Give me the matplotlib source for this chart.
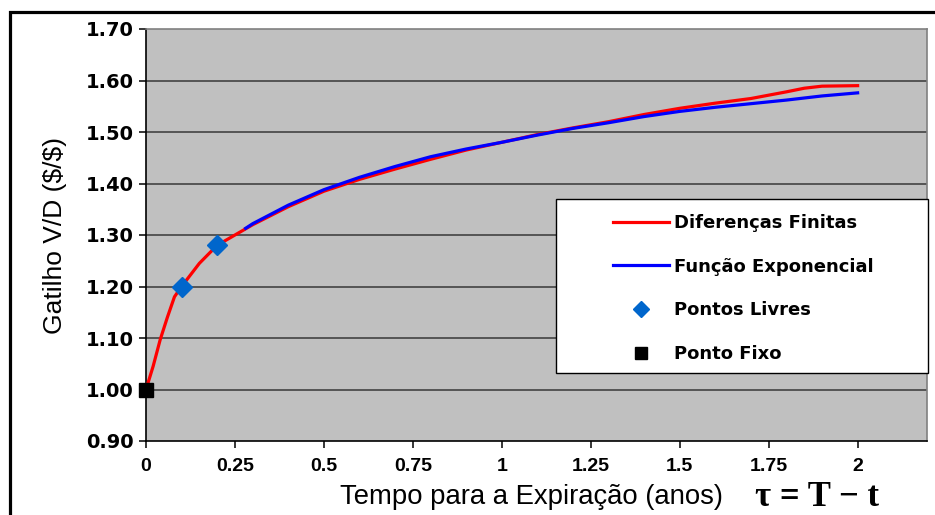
import matplotlib.pyplot as plt
from matplotlib.patches import Rectangle
from matplotlib.lines import Line2D

# Diferenças Finitas (curva vermelha)
tau_df = [0, 0.02, 0.04, 0.06, 0.08, 0.1, 0.15, 0.2, 0.25, 0.3, 0.4, 0.5, 0.6, 0.7, 0.8,
          0.9, 1.0, 1.1, 1.2, 1.3, 1.4, 1.5, 1.6, 1.7, 1.8, 1.85, 1.9, 2.0]
gat_df = [1.00, 1.045, 1.097, 1.14, 1.18, 1.20, 1.245, 1.28, 1.30, 1.32, 1.355, 1.385, 1.408,
          1.428, 1.447, 1.465, 1.48, 1.495, 1.508, 1.52, 1.534, 1.546, 1.556, 1.565, 1.578,
          1.585, 1.589, 1.590]

# Função Exponencial (curva azul)
tau_exp = [0.28, 0.3, 0.4, 0.5, 0.6, 0.7, 0.8, 0.9, 1.0, 1.1, 1.2, 1.3, 1.4, 1.5, 1.6,
           1.7, 1.8, 1.9, 2.0]
gat_exp = [1.313, 1.322, 1.358, 1.388, 1.412, 1.433, 1.452, 1.467, 1.48, 1.494, 1.507,
           1.518, 1.530, 1.540, 1.548, 1.555, 1.562, 1.570, 1.576]

# pontos
livres_x = [0.1, 0.2]
livres_y = [1.20, 1.28]
fixo_x = [0]
fixo_y = [1.00]

xticks = [0, 0.25, 0.5, 0.75, 1, 1.25, 1.5, 1.75, 2]
xticklabels = ['0', '0.25', '0.5', '0.75', '1', '1.25', '1.5', '1.75', '2']
yticks = [0.9, 1.0, 1.1, 1.2, 1.3, 1.4, 1.5, 1.6, 1.7]

fig = plt.figure(figsize=(9.35, 5.15), dpi=100)
ax = fig.add_axes([146/935, 74/515, 781/935, 412/515])
ax.set_facecolor('#c0c0c0')

# moldura preta da figura
fig.patches.append(Rectangle((9.5/935, -0.1), 1.2, 1 - 11.5/515 + 0.1, transform=fig.transFigure,
                             fill=False, edgecolor='black', linewidth=2.3))

for v in yticks[1:-1]:
    ax.axhline(v, color='#383838', linewidth=1.1, zorder=1)

ax.plot(tau_df, gat_df, color='#ff0000', linewidth=2.3, zorder=3, label='Diferenças Finitas')
ax.plot(tau_exp, gat_exp, color='#0000ff', linewidth=2.3, zorder=4, label='Função Exponencial')
ax.plot(livres_x, livres_y, 'D', color='#0066cc', markersize=10.5, zorder=5,
        linestyle='none', label='Pontos Livres')
ax.plot(fixo_x, fixo_y, 's', color='black', markersize=10, zorder=6, clip_on=False,
        linestyle='none', label='Ponto Fixo')

ax.set_xlim(0, 2.195)
ax.set_ylim(0.9, 1.7)
ax.set_xticks(xticks)
ax.set_xticklabels(xticklabels)
ax.set_yticks(yticks)
ax.set_yticklabels(['%.2f' % v for v in yticks])

for s in ['top', 'right']:
    ax.spines[s].set_color('#808080')
    ax.spines[s].set_linewidth(1.2)
for s in ['left', 'bottom']:
    ax.spines[s].set_color('black')
    ax.spines[s].set_linewidth(1.2)

ax.tick_params(axis='y', direction='out', length=5, width=1.1, pad=4)
ax.tick_params(axis='x', direction='out', length=5, width=1.1, pad=7)
for t in ax.get_yticklabels():
    t.set_fontfamily('DejaVu Sans')
    t.set_fontweight('bold')
    t.set_fontsize(14)
for t in ax.get_xticklabels():
    t.set_fontfamily('Liberation Sans')
    t.set_fontweight('bold')
    t.set_fontsize(14)

ax.set_ylabel('Gatilho V/D (\\$/\\$)', fontfamily='Liberation Sans', fontsize=19, labelpad=13)
fig.text(340/935, 1 - 497/515, 'Tempo para a Expiração (anos)', fontfamily='Liberation Sans',
         fontsize=19.8, ha='left', va='center')
fig.text(755/935, 1 - 497/515, 'τ = T − t', fontfamily='Liberation Serif', fontweight='bold',
         fontsize=25, ha='left', va='center')

# caixa da legenda
ax.add_patch(Rectangle((556/935, 1 - 373/515), 372/935, 174/515, transform=fig.transFigure,
                       facecolor='white', edgecolor='black', linewidth=1.0, zorder=7,
                       clip_on=False))
handles = [Line2D([], [], color='#ff0000', linewidth=2.3),
           Line2D([], [], color='#0000ff', linewidth=2.3),
           Line2D([], [], marker='D', color='#0066cc', markersize=8.5, linestyle='none'),
           Line2D([], [], marker='s', color='black', markersize=8.5, linestyle='none')]
labels = ['Diferenças Finitas', 'Função Exponencial', 'Pontos Livres', 'Ponto Fixo']
leg = ax.legend(handles, labels, loc='upper left', bbox_to_anchor=(604/935, 1 - 205/515),
                bbox_transform=fig.transFigure, frameon=False, handlelength=3.1,
                handletextpad=0.3, labelspacing=1.42, borderpad=0,
                prop={'family': 'DejaVu Sans', 'weight': 'bold', 'size': 13})
leg.set_zorder(8)

fig.savefig('out.png', dpi=100)
